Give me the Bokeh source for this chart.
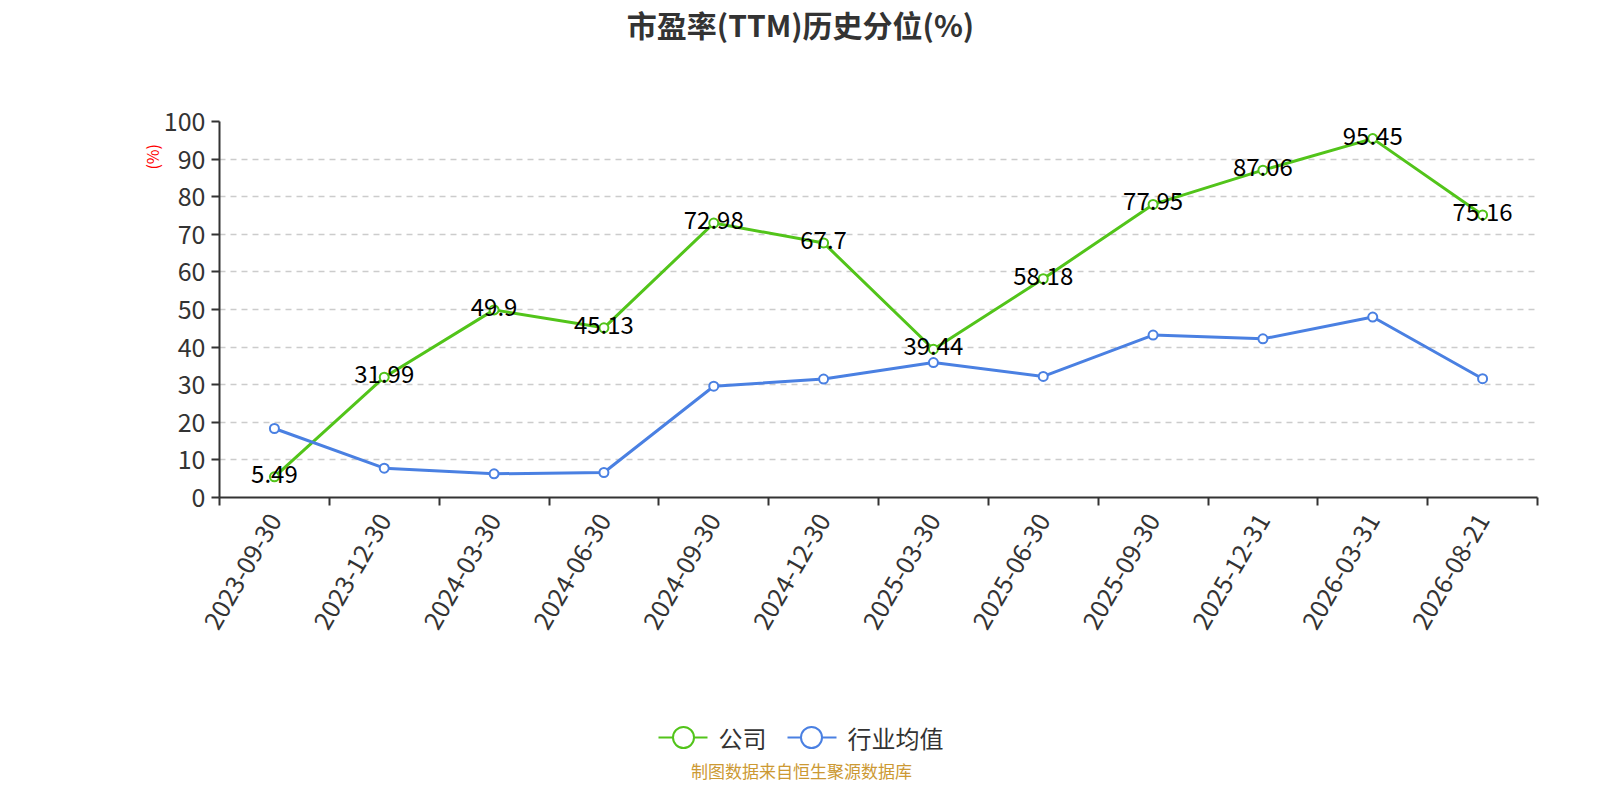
import math
from bokeh.plotting import figure
from bokeh.layouts import column
from bokeh.models import (Range1d, FixedTicker, ColumnDataSource, LabelSet, LinearAxis)
from bokeh.core.properties import value
from bokeh.embed import file_html
from bokeh.resources import INLINE

dates = ["2023-09-30", "2023-12-30", "2024-03-30", "2024-06-30", "2024-09-30",
         "2024-12-30", "2025-03-30", "2025-06-30", "2025-09-30", "2025-12-31",
         "2026-03-31", "2026-08-21"]
company = [5.49, 31.99, 49.9, 45.13, 72.98, 67.7, 39.44, 58.18, 77.95, 87.06, 95.45, 75.16]
industry = [18.35, 7.8, 6.3, 6.65, 29.6, 31.5, 35.9, 32.2, 43.2, 42.2, 48.0, 31.6]
y_ticks = [0, 10, 20, 30, 40, 50, 60, 70, 80, 90, 100]

title_text = "市盈率(TTM)历史分位(%)"
footer_text = "制图数据来自恒生聚源数据库"
series_names = ["公司", "行业均值"]
y_name = "(%)"

GREEN = "#52c41a"
BLUE = "#4a80e2"
FONT = "Noto Sans CJK SC"

W = 1584
H_TOP = 60
H_MAIN = 640
H_LEG = 84
FR_L, FR_R = 219, 1537
MAIN_TOP = 121 - H_TOP          # frame top inside main figure
MAIN_BOTTOM = H_MAIN - (497 - H_TOP)

xs = [i + 0.5 for i in range(len(dates))]


def strip(height, y0, y1):
    f = figure(width=W, height=height, output_backend="svg", toolbar_location=None,
               x_range=Range1d(FR_L, FR_R), y_range=Range1d(y1, y0),
               x_axis_location=None, y_axis_location=None,
               min_border_left=FR_L, min_border_right=W - FR_R, min_border_top=0,
               min_border_bottom=0)
    f.outline_line_color = None
    f.grid.visible = False
    return f


# ---- title strip (data coords = page pixels)
t = strip(H_TOP, 0, H_TOP)
t.text(x=[800], y=[23], text=[title_text], text_align="center",
       text_baseline="middle", text_font=value(FONT), text_font_size="30px",
       text_font_style="bold", text_color="#333333")

# ---- main chart
p = figure(width=W, height=H_MAIN, output_backend="svg", toolbar_location=None,
           x_range=Range1d(0, len(dates)), y_range=Range1d(0, 100),
           min_border_left=FR_L, min_border_right=W - FR_R, min_border_top=MAIN_TOP,
           min_border_bottom=MAIN_BOTTOM)
p.outline_line_color = None

xa = p.xaxis[0]
xa.ticker = FixedTicker(ticks=xs, minor_ticks=list(range(len(dates) + 1)))
xa.major_label_overrides = {x: d for x, d in zip(xs, dates)}
xa.major_tick_line_color = None
xa.minor_tick_line_color = "#333333"
xa.minor_tick_line_width = 2
xa.minor_tick_in = 0
xa.minor_tick_out = 8
xa.axis_line_color = "#333333"
xa.axis_line_width = 2
xa.major_label_orientation = math.pi / 3
xa.major_label_text_font = FONT
xa.major_label_text_font_size = "25px"
xa.major_label_text_color = "#333333"
xa.major_label_standoff = 10

ya = p.yaxis[0]
ya.ticker = FixedTicker(ticks=y_ticks)
ya.major_tick_line_color = "#333333"
ya.major_tick_line_width = 2
ya.major_tick_in = 0
ya.major_tick_out = 8
ya.minor_tick_line_color = None
ya.axis_line_color = "#333333"
ya.axis_line_width = 2
ya.major_label_text_font = FONT
ya.major_label_text_font_size = "25px"
ya.major_label_text_color = "#333333"
ya.major_label_standoff = 6

# axis name "(%)" drawn as the only label of an extra, line-less left axis
name_axis = LinearAxis(ticker=FixedTicker(ticks=[94]),
                       major_label_overrides={94: y_name},
                       axis_line_color=None, major_tick_line_color=None,
                       minor_tick_line_color=None, major_label_standoff=2,
                       major_label_orientation=math.pi / 2,
                       major_label_text_font=FONT,
                       major_label_text_font_size="16px",
                       major_label_text_color="#ff0000")
p.add_layout(name_axis, "left")

p.xgrid.grid_line_color = None
p.ygrid.grid_line_color = "#cccccc"
p.ygrid.grid_line_dash = "6 5"
p.ygrid.grid_line_width = 1.5
p.ygrid.ticker = FixedTicker(ticks=y_ticks[1:])

src_c = ColumnDataSource(dict(x=xs, y=company, t=[str(v) for v in company]))
src_i = ColumnDataSource(dict(x=xs, y=industry))

p.line("x", "y", source=src_c, line_color=GREEN, line_width=3)
p.scatter("x", "y", source=src_c, size=9, fill_color="white",
          line_color=GREEN, line_width=2)
p.line("x", "y", source=src_i, line_color=BLUE, line_width=3)
p.scatter("x", "y", source=src_i, size=9, fill_color="white",
          line_color=BLUE, line_width=2)

labels = LabelSet(x="x", y="y", text="t", source=src_c, text_align="center",
                  text_baseline="middle", y_offset=3, text_font=value(FONT),
                  text_font_size="24px", text_color="#000000")
p.add_layout(labels)

# ---- legend + footer strip (data coords = page pixels)
H_ABOVE = H_TOP + H_MAIN
q = strip(H_LEG, H_ABOVE, H_ABOVE + H_LEG)

LEG_Y = 737
q.line([658, 707], [LEG_Y, LEG_Y], line_color=GREEN, line_width=2)
q.scatter([683], [LEG_Y], size=21, fill_color="white", line_color=GREEN, line_width=2)
q.line([787, 836], [LEG_Y, LEG_Y], line_color=BLUE, line_width=2)
q.scatter([811], [LEG_Y], size=21, fill_color="white", line_color=BLUE, line_width=2)
q.text(x=[718, 847], y=[LEG_Y, LEG_Y], text=series_names, text_align="left",
       text_baseline="middle", text_font=value(FONT), text_font_size="24px",
       text_color="#333333")
q.text(x=[801], y=[770], text=[footer_text], text_align="center",
       text_baseline="middle", text_font=value(FONT), text_font_size="17px",
       text_color="#cc9933")

layout = column(t, p, q, spacing=0)
open("out.html", "w").write(file_html(layout, INLINE))
